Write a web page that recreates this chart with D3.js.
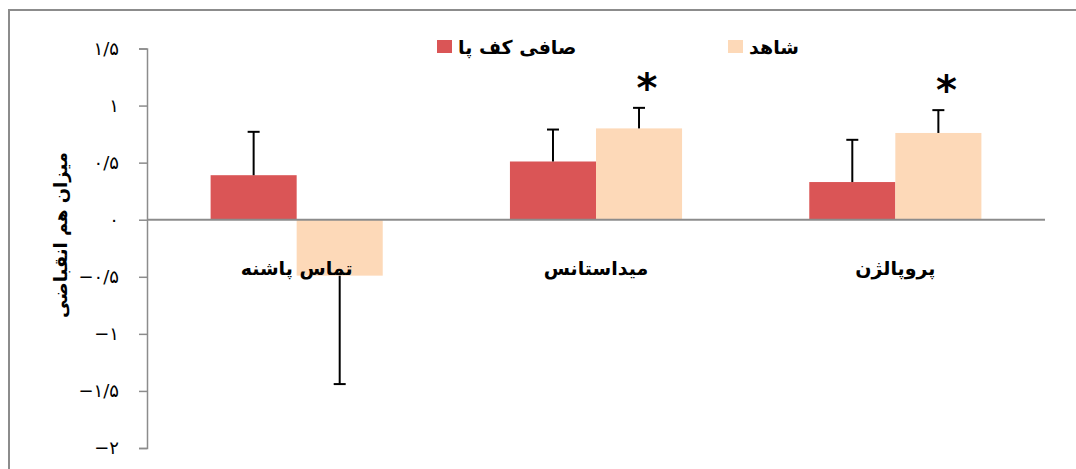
<!DOCTYPE html>
<html lang="fa">
<head>
<meta charset="utf-8">
<script src="https://cdn.jsdelivr.net/npm/d3@7"></script>
<style>
  html, body { margin: 0; padding: 0; background: #fff; }
  svg { display: block; }
  text { font-family: "DejaVu Sans", "Noto Sans", sans-serif; }
</style>
</head>
<body>
<svg id="chart" width="1076" height="469"></svg>
<script>
// Co-contraction values per gait phase
const categories = ["تماس پاشنه", "میداستانس", "پروپالژن"];
const seriesNames = ["صافی کف پا", "شاهد"];
const flatfootValues = [0.39, 0.51, 0.33];
const flatfootErrors = [0.38, 0.28, 0.37];
const controlValues = [-0.49, 0.80, 0.76];
const controlErrors = [0.95, 0.18, 0.20];
const significant = [false, true, true];   // star over the control bar
const tickValues = [-2, -1.5, -1, -0.5, 0, 0.5, 1, 1.5];
const tickLabels = ["−۲", "−۱/۵", "−۱", "−۰/۵", "۰", "۰/۵", "۱", "۱/۵"];
const yTitle = "میزان هم انقباضی";

const colors = ["#DA5556", "#FDD9B8"];

const svg = d3.select("#chart");

// outer frame
svg.append("rect")
  .attr("x", 9).attr("y", 10)
  .attr("width", 1100).attr("height", 500)
  .attr("fill", "none").attr("stroke", "#8c8c8c").attr("stroke-width", 2);

const y = d3.scaleLinear().domain([-2, 1.5]).range([448, 48.5]);
const x = d3.scaleBand().domain(categories).range([147, 1045])
  .paddingInner(0.425).paddingOuter(0.2125);
const xs = d3.scaleBand().domain(seriesNames).range([0, x.bandwidth()]);

const rows = categories.map((c, i) => ({
  cat: c,
  bars: [
    { s: seriesNames[0], v: flatfootValues[i], e: flatfootErrors[i] },
    { s: seriesNames[1], v: controlValues[i], e: controlErrors[i] }
  ],
  star: significant[i]
}));

// y axis
const yAxis = d3.axisLeft(y).tickValues(tickValues)
  .tickFormat((d, i) => tickLabels[i]).tickSizeOuter(0).tickSize(8);
const gy = svg.append("g").attr("transform", "translate(147,0)").call(yAxis);
gy.select(".domain").attr("stroke", "#8c8c8c").attr("stroke-width", 1.5);
gy.selectAll(".tick line").attr("stroke", "#8c8c8c").attr("stroke-width", 1.5);
gy.selectAll(".tick text")
  .attr("x", -28)
  .attr("font-size", 18).attr("fill", "#000")
  .style("font-family", "DejaVu Sans");

// y-axis title
svg.append("text")
  .attr("transform", "translate(60,235) rotate(-90)")
  .attr("text-anchor", "middle").attr("dominant-baseline", "central")
  .attr("font-size", 18).attr("font-weight", "bold")
  .text(yTitle);

// bars
const groups = svg.append("g").selectAll("g").data(rows).join("g")
  .attr("transform", d => `translate(${x(d.cat)},0)`);

groups.selectAll("rect").data(d => d.bars).join("rect")
  .attr("x", d => xs(d.s))
  .attr("width", xs.bandwidth())
  .attr("y", d => y(Math.max(0, d.v)))
  .attr("height", d => Math.abs(y(d.v) - y(0)))
  .attr("fill", (d, i) => colors[i]);

// zero line
svg.append("line")
  .attr("x1", 147).attr("x2", 1045)
  .attr("y1", y(0)).attr("y2", y(0))
  .attr("stroke", "#8c8c8c").attr("stroke-width", 2);

// category labels
svg.append("g").selectAll("text").data(rows).join("text")
  .attr("x", d => x(d.cat) + x.bandwidth() / 2)
  .attr("y", 268)
  .attr("text-anchor", "middle").attr("dominant-baseline", "central")
  .attr("font-size", 19).attr("font-weight", "bold")
  .text(d => d.cat);

// error bars (outward only)
const err = groups.selectAll("g.err").data(d => d.bars).join("g").attr("class", "err");
const tip = d => d.v >= 0 ? d.v + d.e : d.v - d.e;
err.append("line")
  .attr("x1", d => xs(d.s) + xs.bandwidth() / 2)
  .attr("x2", d => xs(d.s) + xs.bandwidth() / 2)
  .attr("y1", d => y(d.v)).attr("y2", d => y(tip(d)))
  .attr("stroke", "#000").attr("stroke-width", 2);
err.append("line")
  .attr("x1", d => xs(d.s) + xs.bandwidth() / 2 - 6)
  .attr("x2", d => xs(d.s) + xs.bandwidth() / 2 + 6)
  .attr("y1", d => y(tip(d))).attr("y2", d => y(tip(d)))
  .attr("stroke", "#000").attr("stroke-width", 2);

// significance stars
groups.filter(d => d.star).append("text")
  .attr("x", xs(seriesNames[1]) + xs.bandwidth() / 2 + 8)
  .attr("y", d => y(d.bars[1].v + d.bars[1].e) - 6)
  .attr("text-anchor", "middle")
  .attr("font-size", 40).attr("font-weight", "bold")
  .text("*");

// legend
const legendX = [437, 728];
const legend = svg.append("g").selectAll("g").data(seriesNames).join("g")
  .attr("transform", (d, i) => `translate(${legendX[i]},40)`);
legend.append("rect").attr("width", 15).attr("height", 13)
  .attr("fill", (d, i) => colors[i]);
legend.append("text")
  .attr("x", 21).attr("y", 7)
  .attr("dominant-baseline", "central")
  .attr("font-size", 19).attr("font-weight", "bold")
  .text(d => d);
</script>
</body>
</html>
